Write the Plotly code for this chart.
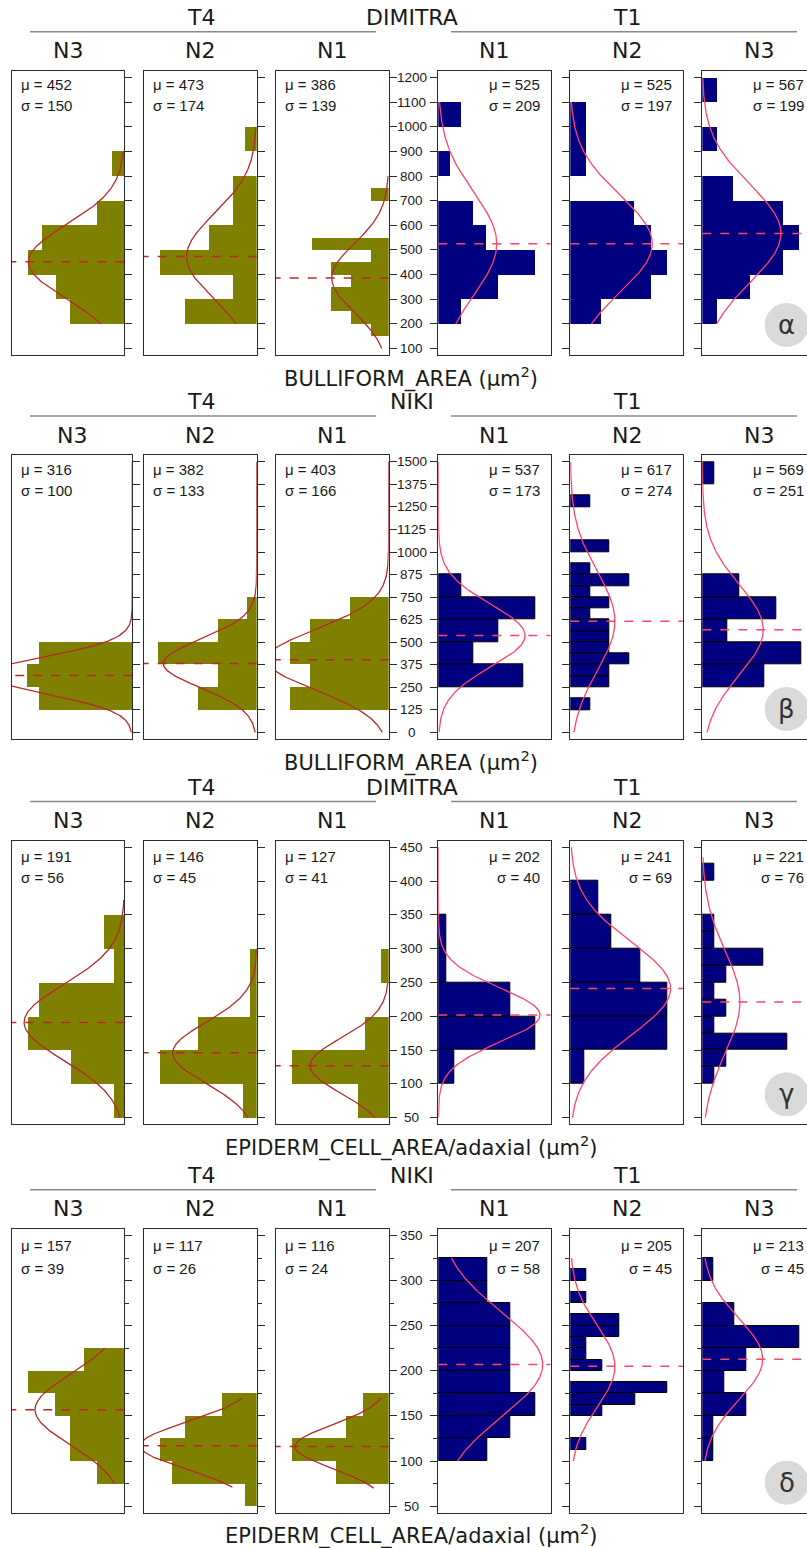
import numpy as np
import plotly.graph_objects as go

W, H = 807, 1548

# ---------------- DATA ----------------
# Bars: lower bin edge, bin width, bar length (% of panel width)
# Row alpha: BULLIFORM_AREA, DIMITRA
A_T4N3_LO = [800, 600, 500, 400, 300, 200]
A_T4N3_F = [11.5, 24.3, 73.1, 86.1, 61.2, 48.8]
A_T4N2_LO = [900, 700, 600, 500, 400, 300, 200]
A_T4N2_F = [10.3, 21.2, 21.2, 42.8, 85.5, 21.2, 63.7]
A_T4N1_LO = [700, 500, 450, 400, 350, 300, 250, 200, 150]
A_T4N1_F = [16.2, 68.1, 16.2, 51.0, 33.6, 51.0, 51.0, 33.6, 16.2]
A_T1N1_LO = [1000, 800, 600, 500, 400, 300, 200]
A_T1N1_F = [20.8, 10.4, 31.2, 43.0, 86.0, 53.4, 20.8]
A_T1N2_LO = [1000, 900, 800, 600, 500, 400, 300, 200]
A_T1N2_F = [13.9, 13.9, 13.9, 56.8, 72.2, 85.8, 72.2, 27.8]
A_T1N3_LO = [1100, 900, 700, 600, 500, 400, 300, 200]
A_T1N3_F = [13.6, 13.6, 27.5, 71.9, 85.8, 71.9, 42.9, 13.6]
A_BW = [100, 100, 50, 100, 100, 100]
A_MU = [452, 473, 386, 525, 525, 567]
A_SD = [150, 174, 139, 209, 197, 199]
A_PEAK = [85.2, 62.0, 50.4, 52.0, 72.8, 69.8]
A_CURVE_Y = [(200, 900), (200, 1000), (100, 800), (200, 1100), (200, 1100), (200, 1200)]

# Row beta: BULLIFORM_AREA, NIKI
B_T4N3_LO = [375, 250, 125]
B_T4N3_F = [77.9, 87.6, 77.9]
B_T4N2_LO = [625, 500, 375, 250, 125]
B_T4N2_F = [8.6, 34.8, 87.6, 34.8, 52.2]
B_T4N1_LO = [625, 500, 375, 250, 125]
B_T4N1_F = [34.8, 70.2, 87.9, 70.2, 87.9]
B_T1N1_LO = [750, 625, 500, 375, 250]
B_T1N1_F = [20.8, 86.0, 53.4, 31.2, 75.7]
B_T1N2_LO = [1250, 1000, 875, 812.5, 750, 687.5, 625, 562.5, 500, 437.5, 375, 312.5, 250, 125]
B_T1N2_F = [17.5, 34.6, 17.5, 52.4, 17.5, 34.6, 17.5, 34.6, 34.6, 34.6, 52.4, 34.6, 34.6, 17.5]
B_T1N3_LO = [1375, 750, 625, 500, 375, 250]
B_T1N3_F = [10.7, 32.8, 66.0, 22.2, 88.2, 54.7]
B_BW = [125, 125, 125, 125, 62.5, 125]
B_MU = [316, 382, 403, 537, 617, 569]
B_SD = [100, 133, 166, 173, 274, 251]
B_PEAK = [124.0, 82.6, 108.0, 77.2, 39.6, 54.1]
B_CURVE_Y = [(0, 1500)] * 6

# Row gamma: EPIDERM_CELL_AREA/adaxial, DIMITRA
C_T4N3_LO = [300, 250, 200, 150, 100, 50]
C_T4N3_F = [18.6, 9.2, 76.3, 86.1, 47.6, 9.2]
C_T4N2_LO = [250, 200, 150, 100, 50]
C_T4N2_F = [5.9, 5.9, 52.2, 85.5, 12.7]
C_T4N1_LO = [250, 150, 100, 50]
C_T4N1_F = [6.8, 20.9, 85.5, 27.7]
C_T1N1_LO = [300, 250, 200, 150, 100]
C_T1N1_F = [7.4, 7.4, 64.1, 86.4, 13.9]
C_T1N2_LO = [350, 300, 250, 200, 150, 100]
C_T1N2_F = [24.9, 36.1, 61.8, 86.1, 86.1, 12.1]
C_T1N3_LO = [400, 325, 300, 275, 250, 225, 200, 175, 150, 125, 100]
C_T1N3_F = [10.7, 10.7, 10.7, 54.1, 21.0, 10.7, 21.0, 10.7, 75.7, 21.0, 10.7]
C_BW = [50, 50, 50, 50, 50, 25]
C_MU = [191, 146, 127, 202, 241, 221]
C_SD = [56, 45, 41, 40, 69, 76]
C_PEAK = [89.0, 74.3, 69.6, 90.5, 89.0, 33.4]
C_CURVE_Y = [(50, 372), (50, 300), (50, 250), (50, 450), (50, 450), (50, 435)]

# Row delta: EPIDERM_CELL_AREA/adaxial, NIKI
D_T4N3_LO = [200, 175, 150, 125, 100, 75]
D_T4N3_F = [36.1, 86.1, 61.5, 48.8, 48.8, 24.3]
D_T4N2_LO = [150, 125, 100, 75, 50]
D_T4N2_F = [31.3, 63.7, 85.5, 75.5, 10.3]
D_T4N1_LO = [150, 125, 100, 75]
D_T4N1_F = [23.0, 37.8, 85.5, 46.6]
D_T1N1_LO = [300, 275, 250, 225, 200, 175, 150, 125, 100]
D_T1N1_F = [43.6, 43.6, 64.1, 64.1, 64.1, 64.1, 86.4, 64.1, 43.6]
D_T1N2_LO = [300, 275, 250, 237.5, 225, 212.5, 200, 175, 162.5, 150, 112.5]
D_T1N2_F = [14.2, 14.2, 43.2, 43.2, 14.2, 14.2, 28.4, 86.4, 57.4, 28.4, 14.2]
D_T1N3_LO = [300, 250, 225, 200, 175, 150, 125, 100]
D_T1N3_F = [9.8, 28.4, 86.1, 38.8, 19.2, 38.8, 9.8, 9.8]
D_BW = [25, 25, 25, 25, 12.5, 25]
D_MU = [157, 117, 116, 207, 205, 213]
D_SD = [39, 26, 24, 58, 45, 45]
D_PEAK = [79.3, 103.0, 82.9, 92.9, 39.6, 53.6]
D_CURVE_Y = [(75, 225), (71, 170), (70, 170), (100, 325), (100, 325), (100, 325)]

PANEL_LABELS = ["N3", "N2", "N1", "N1", "N2", "N3"]
GROUP_LABELS = ["T4", "T1"]
CULTIVARS = ["DIMITRA", "NIKI", "DIMITRA", "NIKI"]
X_TITLES = ["BULLIFORM_AREA (μm<sup>2</sup>)", "BULLIFORM_AREA (μm<sup>2</sup>)",
            "EPIDERM_CELL_AREA/adaxial (μm<sup>2</sup>)", "EPIDERM_CELL_AREA/adaxial (μm<sup>2</sup>)"]
GREEK = ["α", "β", "γ", "δ"]
TICKS_A = [100, 200, 300, 400, 500, 600, 700, 800, 900, 1000, 1100, 1200]
TICKS_B = [0, 125, 250, 375, 500, 625, 750, 875, 1000, 1125, 1250, 1375, 1500]
TICKS_C = [50, 100, 150, 200, 250, 300, 350, 400, 450]
TICKS_D = [50, 100, 150, 200, 250, 300, 350]

ROWS = [
    dict(lo=[A_T4N3_LO, A_T4N2_LO, A_T4N1_LO, A_T1N1_LO, A_T1N2_LO, A_T1N3_LO],
         f=[A_T4N3_F, A_T4N2_F, A_T4N1_F, A_T1N1_F, A_T1N2_F, A_T1N3_F],
         bw=A_BW, mu=A_MU, sd=A_SD, peak=A_PEAK, cy=A_CURVE_Y, ticks=TICKS_A, dtick=100, minor=None),
    dict(lo=[B_T4N3_LO, B_T4N2_LO, B_T4N1_LO, B_T1N1_LO, B_T1N2_LO, B_T1N3_LO],
         f=[B_T4N3_F, B_T4N2_F, B_T4N1_F, B_T1N1_F, B_T1N2_F, B_T1N3_F],
         bw=B_BW, mu=B_MU, sd=B_SD, peak=B_PEAK, cy=B_CURVE_Y, ticks=TICKS_B, dtick=125, minor=None),
    dict(lo=[C_T4N3_LO, C_T4N2_LO, C_T4N1_LO, C_T1N1_LO, C_T1N2_LO, C_T1N3_LO],
         f=[C_T4N3_F, C_T4N2_F, C_T4N1_F, C_T1N1_F, C_T1N2_F, C_T1N3_F],
         bw=C_BW, mu=C_MU, sd=C_SD, peak=C_PEAK, cy=C_CURVE_Y, ticks=TICKS_C, dtick=50, minor=None),
    dict(lo=[D_T4N3_LO, D_T4N2_LO, D_T4N1_LO, D_T1N1_LO, D_T1N2_LO, D_T1N3_LO],
         f=[D_T4N3_F, D_T4N2_F, D_T4N1_F, D_T1N1_F, D_T1N2_F, D_T1N3_F],
         bw=D_BW, mu=D_MU, sd=D_SD, peak=D_PEAK, cy=D_CURVE_Y, ticks=TICKS_D, dtick=50, minor=25),
]

# ---------------- LAYOUT / STYLE ----------------
ROW_TOP = [71, 455.3, 840.7, 1229]
ROW_BOT = [355, 739, 1124.3, 1512.7]
PANEL_X = [(11.7, 124.3), (143.7, 256.7), (275.7, 388.7), (438.3, 550.7), (570.3, 683), (702.3, 815)]
OLIVE, NAVY = "#808000", "#000080"
T4_LINE, T1_LINE = "#b22a2a", "#ff4466"
FRAME = "#2b2b2b"
HEAD_FONT = "DejaVu Sans"
NUM_FONT = "Liberation Sans"
MU_OFF = [(14, 34.5), (14, 35.4), (16, 36.6), (16, 39.3)]


def px(x):
    return x / W


def py(y):
    return 1 - y / H


fig = go.Figure()
layout = dict(width=W, height=H, margin=dict(l=0, r=0, t=0, b=0), autosize=False,
              paper_bgcolor="white", plot_bgcolor="white", showlegend=False,
              bargap=0, barmode="overlay")
annotations, shapes = [], []

for r, row in enumerate(ROWS):
    top, bot = ROW_TOP[r], ROW_BOT[r]
    ticks = row["ticks"]
    ylo, yhi = ticks[0], ticks[-1]
    pad = 0.0243 * (yhi - ylo)
    for p in range(6):
        k = r * 6 + p + 1
        x0, x1 = PANEL_X[p]
        if r == 1 and p == 0:
            x1 = 132.3
        t4 = p < 3
        x1v = min(x1, W)
        vis = 100.0 * (x1v - x0) / (x1 - x0)
        xrange = [100, 0] if t4 else [0, vis]
        sfx = "" if k == 1 else str(k)
        layout["xaxis" + sfx] = dict(domain=[px(x0), px(x1v)], range=xrange, anchor="y" + sfx,
                                     showticklabels=False, ticks="", showgrid=False, zeroline=False,
                                     showline=True, mirror=True, linecolor=FRAME, linewidth=1.2,
                                     fixedrange=True)
        ya = dict(domain=[py(bot), py(top)], range=[ylo - pad, yhi + pad], anchor="x" + sfx,
                  side="right" if t4 else "left", ticks="outside", ticklen=7, tickwidth=1.2,
                  tickcolor=FRAME, showticklabels=False, tick0=0, dtick=row["dtick"],
                  showgrid=False, zeroline=False, showline=True, mirror=(p != 5),
                  linecolor=FRAME, linewidth=1.2, fixedrange=True)
        if row["minor"]:
            ya["minor"] = dict(ticks="outside", ticklen=4, dtick=row["minor"], tick0=0,
                               tickcolor=FRAME, tickwidth=1.2, showgrid=False)
        layout["yaxis" + sfx] = ya

        bw = row["bw"][p]
        lo = row["lo"][p]
        fig.add_trace(go.Bar(
            orientation="h", y=[v + bw / 2 for v in lo], x=row["f"][p], width=bw,
            marker=dict(color=OLIVE if t4 else NAVY,
                        line=dict(color="black", width=(1 if (not t4 and r > 0) else 0))),
            xaxis="x" + sfx, yaxis="y" + sfx, hoverinfo="skip"))

        mu, sd, pk = row["mu"][p], row["sd"][p], row["peak"][p]
        c0, c1 = row["cy"][p]
        ys = np.linspace(c0, c1, 300)
        xs = pk * np.exp(-0.5 * ((ys - mu) / sd) ** 2)
        col = T4_LINE if t4 else T1_LINE
        fig.add_trace(go.Scatter(x=xs, y=ys, mode="lines", line=dict(color=col, width=1.3),
                                 xaxis="x" + sfx, yaxis="y" + sfx, hoverinfo="skip"))
        fig.add_trace(go.Scatter(x=[0, 100], y=[mu, mu], mode="lines",
                                 line=dict(color=col, width=1.5, dash="dash"),
                                 xaxis="x" + sfx, yaxis="y" + sfx, hoverinfo="skip"))

        # mu / sigma text
        mo, so = MU_OFF[r]
        if t4:
            tx, anc = x0 + 7.6, "left"
        else:
            tx, anc = min(x1 - 9, W - 1), "right"
        for txt, off in ((f"μ = {mu}", mo), (f"σ = {sd}", so)):
            annotations.append(dict(x=px(tx), y=py(top + off), xref="paper", yref="paper",
                                    text=txt, showarrow=False, xanchor=anc, yanchor="middle",
                                    font=dict(family=NUM_FONT, size=15, color="#1a1a1a")))
        # panel label
        annotations.append(dict(x=px((x0 + x1) / 2), y=py(top - 20.2), xref="paper", yref="paper",
                                text=PANEL_LABELS[p], showarrow=False, xanchor="center",
                                yanchor="middle",
                                font=dict(family=HEAD_FONT, size=22, color="#1a1a1a")))

    # tick labels between the T4 and T1 blocks
    k3 = r * 6 + 3
    for v in ticks:
        annotations.append(dict(x=px(411.5), y=v, xref="paper", yref="y" + str(k3),
                                text=str(v), showarrow=False, xanchor="center", yanchor="middle",
                                font=dict(family=NUM_FONT, size=13.5, color="#1a1a1a")))
    # group headers
    for txt, cx in ((GROUP_LABELS[0], 200.8), (CULTIVARS[r], 412), (GROUP_LABELS[1], 626.7)):
        annotations.append(dict(x=px(cx), y=py(top - 53.5), xref="paper", yref="paper", text=txt,
                                showarrow=False, xanchor="center", yanchor="middle",
                                font=dict(family=HEAD_FONT, size=22, color="#1a1a1a")))
    for (a, b) in ((30, 376), (451, 797)):
        shapes.append(dict(type="line", xref="paper", yref="paper", x0=px(a), x1=px(b),
                           y0=py(top - 39.3), y1=py(top - 39.3),
                           line=dict(color="#8a8a8a", width=1.5)))
    # x title
    annotations.append(dict(x=px(411), y=py(bot + 22), xref="paper", yref="paper",
                            text=X_TITLES[r], showarrow=False, xanchor="center", yanchor="middle",
                            font=dict(family=HEAD_FONT, size=21, color="#1a1a1a")))
    # greek badge
    cxg, cyg, rad = 786.7, bot - 30, 22
    shapes.append(dict(type="circle", xref="paper", yref="paper", x0=px(cxg - rad), x1=px(cxg + rad),
                       y0=py(cyg + rad), y1=py(cyg - rad), fillcolor="#d9d9d9",
                       line=dict(width=0)))
    annotations.append(dict(x=px(cxg), y=py(cyg), xref="paper", yref="paper", text=GREEK[r],
                            showarrow=False, xanchor="center", yanchor="middle",
                            font=dict(family=HEAD_FONT, size=26, color="#333333")))

layout["annotations"] = annotations
layout["shapes"] = shapes
fig.update_layout(**layout)
fig.write_html("out.html", config={"displayModeBar": False},
               post_script="document.body.style.margin='0';document.body.style.padding='0';"
                           "document.body.style.overflow='hidden';")
